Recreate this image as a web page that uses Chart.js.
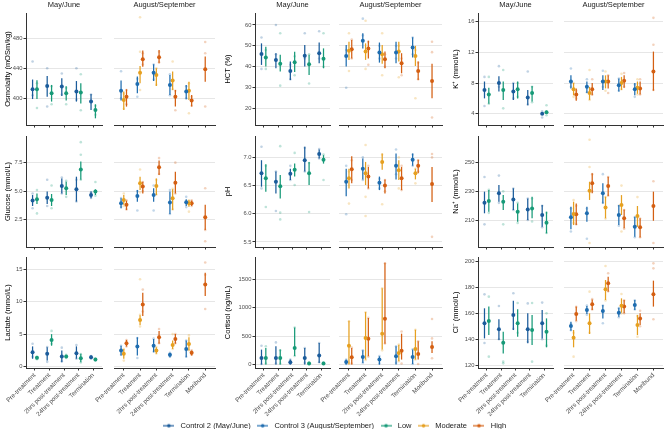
<!DOCTYPE html>
<html><head><meta charset="utf-8">
<script src="https://cdn.jsdelivr.net/npm/chart.js@4.4.0/dist/chart.umd.min.js"></script>
<style>
html,body{margin:0;padding:0;background:#fff;width:667px;height:440px;overflow:hidden;}
#wrap{position:relative;width:667px;height:440px;}
canvas{position:absolute;}
</style></head><body><div id="wrap"></div>
<script>
// ---------------- categories ----------------
const catMay = ["Pre-treatment","Treatment","2hrs post-treatment","24hrs post-treatment","Termination"];
const catAug = ["Pre-treatment","Treatment","2hrs post-treatment","24hrs post-treatment","Termination","Moribund"];
const groupNames = ["Control 2 (May/June)","Control 3 (August/September)","Low","Moderate","High"];

// ---------------- data: [mean, lower, upper] per category ----------------
// Osmolality (mOSm/kg)
const osmoC2  = [[412,399,425],[416.4,402,429.8],[415.6,403,426.7],[408.9,395.6,423],[395.6,384.4,405.8]];
const osmoLow = [[412,399,424],[406.7,395.6,417.8],[406.7,397,416],[407.6,393,420],[384.4,373.3,392]];
const osmoC3  = [[410.2,396.9,423.6],[419.1,406.7,428.9],[434.2,423,445.3],[417.8,404.4,431],[408.9,398.7,417.8],null];
const osmoMod = [[397.8,384.4,408.9],[434.2,420,443],[431,416.4,440],[423.6,411,435.6],[410,397.8,422],null];
const osmoHigh= [[402.2,388.9,412],[452,442.2,463.6],[454.7,446.7,464.4],[402.2,389,411],[396.9,389,404.4],[438.7,422.2,455.6]];
const osmoC2Raw  = [[0,449],[0,404],[1,440],[1,389],[2,433],[2,405],[3,440],[3,398],[4,405]];
const osmoLowRaw = [[0,387],[0,420],[1,392],[1,416],[2,392],[2,414],[3,384],[3,432],[4,378],[4,390]];
const osmoC3Raw  = [[0,436],[0,400],[1,402],[1,426],[2,445],[2,425],[3,432],[3,404],[4,416],[4,400]];
const osmoModRaw = [[0,386],[0,406],[1,508],[1,411],[1,462],[2,440],[2,418],[3,449],[3,412],[4,380],[4,420]];
const osmoHighRaw= [[0,392],[0,411],[1,460],[1,445],[2,462],[2,448],[3,384],[3,410],[4,390],[4,402],[5,475],[5,460],[5,389]];
const osmoTicks = [400,440,480];
const osmoRange = [364.4,513.7];

// HCT (%)
const hctC2  = [[46.1,40.9,51.2],[43.3,39.3,46.5],[38.0,33.7,42.5],[45.3,40.1,50.4],[46.5,41.7,51.6]];
const hctLow = [[44.5,40.1,49.6],[41.4,37.7,45.7],[42.2,37.5,47.2],[41.2,36.1,45.7],[43.9,39.3,48.8]];
const hctC3  = [[45.2,40.1,50.4],[52.5,48.8,56],[46.8,42,51.6],[46.8,41.7,52],[49.2,44.5,54.1],null];
const hctMod = [[47.7,43.3,52],[47.3,43.3,51.2],[46,41.4,50.4],[47.3,42.5,52],[45.2,40.4,50],null];
const hctHigh= [[48.4,44,52.8],[48.8,44,52.5],[43.6,39.3,47.3],[41.7,36.9,46.5],[38,33.7,42.5],[33.2,25,41.5]];
const hctC2Raw  = [[0,54],[0,39],[1,60],[1,46],[2,34],[2,41],[3,56],[3,44],[4,57],[4,44]];
const hctLowRaw = [[0,39],[0,48],[1,31],[1,56],[2,36],[2,45],[3,32],[3,46],[4,56],[4,40]];
const hctC3Raw  = [[0,30],[0,48],[1,63],[1,55],[2,50],[2,44],[3,50],[3,44],[4,54],[4,46]];
const hctModRaw = [[0,56],[0,38],[1,62],[1,39],[2,56],[2,36],[3,35],[3,50],[4,25],[4,48]];
const hctHighRaw= [[0,53],[0,44],[1,41],[1,52],[2,46],[2,40],[3,44],[3,36],[4,42],[4,34],[5,52],[5,47],[5,15.8]];
const hctTicks = [20,30,40,50,60];
const hctRange = [12.2,65.7];

// K+ (mmol/L)
const kC2  = [[7.1,6,8.2],[8.0,6.9,8.9],[6.9,5.8,8],[6.1,5.1,7.1],[4.0,3.9,4.2]];
const kLow = [[6.5,5.3,7.4],[7.1,5.8,8.2],[7.2,6,8.2],[6.7,5.6,7.6],[4.2,4.0,4.4]];
const kC3  = [[8.2,7.3,9],[7.5,6.7,8.2],[8.2,7.1,9],[7.7,6.9,8.6],[7.2,6.4,8],null];
const kMod = [[7.2,6.4,8],[6.7,5.8,7.5],[8.2,7.3,9],[8.0,7.1,8.8],[7.4,6.6,8.2],null];
const kHigh= [[6.5,5.7,7.3],[7.2,6.4,8],[8.2,7.3,9],[8.3,7.4,9],[7.3,6.5,8.2],[9.5,7.0,12.1]];
const kC2Raw  = [[0,8.8],[0,5.0],[1,10.2],[1,7.5],[2,8.0],[2,6.0],[3,9.5],[3,5.2],[4,3.5],[4,4.3]];
const kLowRaw = [[0,8.8],[0,5.3],[1,9.7],[1,4.7],[2,8.0],[2,6.2],[3,7.5],[3,5.5],[4,5.1],[4,3.8]];
const kC3Raw  = [[0,9.9],[0,7.5],[1,8.5],[1,6.8],[2,9.6],[2,7.5],[3,8.6],[3,7.0],[4,7.8],[4,6.2]];
const kModRaw = [[0,8.0],[0,6.2],[1,9.7],[1,5.8],[2,9.5],[2,7.0],[3,9.2],[3,7.2],[4,8.5],[4,6.5]];
const kHighRaw= [[0,7.0],[0,6.0],[1,8.5],[1,6.5],[2,9.0],[2,6.7],[3,9.3],[3,7.5],[4,8.5],[4,6.5],[5,16.5],[5,13.0],[5,7.1]];
const kTicks = [4,8,12,16];
const kRange = [2.53,17.13];

// Glucose (mmol/L)
const gluC2  = [[4.17,3.7,4.66],[4.43,3.87,4.96],[5.45,4.8,6.1],[5.16,4.08,6.27],[4.66,4.37,4.96]];
const gluLow = [[4.3,3.87,4.8],[4.23,3.7,4.75],[5.25,4.66,5.83],[6.9,6.0,7.6],[4.96,4.66,5.16]];
const gluC3  = [[3.93,3.5,4.37],[4.58,4.08,5.1],[4.66,4.08,5.25],[4.0,3.0,4.96],[4.02,3.7,4.28],null];
const gluMod = [[4.23,3.8,4.66],[5.69,5.1,6.27],[5.45,4.66,6.1],[4.37,3.35,5.16],[3.93,3.64,4.23],null];
const gluHigh= [[3.8,3.35,4.17],[5.4,4.8,5.83],[7.09,6.42,7.68],[5.74,4.8,6.71],[3.93,3.7,4.17],[2.7,1.6,3.8]];
const gluC2Raw  = [[0,4.8],[0,3.5],[1,6.0],[1,3.7],[2,6.2],[2,4.8],[3,6.0],[3,4.1],[4,4.9],[4,4.4]];
const gluLowRaw = [[0,5.1],[0,3.05],[1,5.5],[1,3.5],[2,5.9],[2,4.5],[3,9.3],[3,8.2],[3,6.0],[4,5.8],[4,4.6]];
const gluC3Raw  = [[0,4.4],[0,3.6],[1,3.3],[1,5.0],[2,3.3],[2,5.5],[3,5.1],[3,3.0],[4,4.5],[4,3.6]];
const gluModRaw = [[0,4.8],[0,3.7],[1,6.9],[1,4.9],[2,6.0],[2,4.7],[3,5.2],[3,3.4],[4,4.2],[4,3.2]];
const gluHighRaw= [[0,4.2],[0,3.4],[1,5.8],[1,5.0],[2,7.9],[2,6.5],[3,7.5],[3,4.8],[4,4.2],[4,3.7],[5,5.25],[5,1.6],[5,0.6]];
const gluTicks = [2.5,5.0,7.5];
const gluRange = [0.1,9.84];

// pH
const phC2  = [[6.72,6.48,6.95],[6.57,6.36,6.75],[6.71,6.6,6.8],[6.95,6.75,7.19],[7.06,6.98,7.14]];
const phLow = [[6.63,6.39,6.88],[6.49,6.27,6.69],[6.78,6.66,6.89],[6.72,6.51,6.92],[6.96,6.89,7.04]];
const phC3  = [[6.57,6.31,6.8],[6.8,6.61,6.98],[6.55,6.42,6.66],[6.85,6.61,7.07],[6.96,6.85,7.07],null];
const phMod = [[6.63,6.45,6.8],[6.72,6.51,6.92],[6.92,6.78,7.07],[6.77,6.6,6.95],[6.72,6.61,6.8],null];
const phHigh= [[6.79,6.54,7.02],[6.66,6.45,6.83],[6.5,6.36,6.61],[6.63,6.42,6.83],[6.85,6.72,6.96],[6.53,6.21,6.83]];
const phC2Raw  = [[0,7.19],[0,6.45],[1,6.75],[1,6.05],[2,6.85],[2,6.6],[3,7.17],[3,6.75],[4,7.15],[4,6.98]];
const phLowRaw = [[0,6.12],[0,6.85],[1,7.2],[1,6.02],[1,5.9],[2,7.08],[2,6.51],[3,6.03],[3,6.9],[4,6.6],[4,7.05]];
const phC3Raw  = [[0,5.99],[0,6.85],[1,7.0],[1,6.6],[2,6.62],[2,6.45],[3,7.14],[3,6.7],[4,7.05],[4,6.85]];
const phModRaw = [[0,6.18],[0,6.75],[1,7.22],[1,5.96],[1,6.3],[2,7.05],[2,6.17],[3,7.0],[3,6.45],[4,6.54],[4,6.8]];
const phHighRaw= [[0,6.95],[0,6.6],[1,6.85],[1,6.45],[2,6.6],[2,6.4],[3,6.85],[3,6.42],[4,6.95],[4,6.75],[5,7.06],[5,7.0],[5,5.59]];
const phTicks = [5.5,6.0,6.5,7.0];
const phRange = [5.41,7.38];

// Na+ (mmol/L)
const naC2  = [[222.1,214.7,229.8],[228.6,222.8,234.4],[224.4,217,232.1],[217.4,210,225.1],[213.5,205.3,220.5]];
const naLow = [[223.3,215.8,230.9],[222.8,217,227.4],[215.8,208.8,221.6],[218.1,211.2,226.3],[208.1,200.7,215.8]];
const naC3  = [[211.9,203.5,219.3],[214.7,208.8,219.3],[228.6,221.6,235.6],[213.5,206.5,220.5],[205.3,198.4,212.3],null];
const naMod = [[214.2,206.5,222.8],[230.5,224,236.7],[218.8,211.2,226.3],[220.5,213.5,227.4],[212.8,205.3,219.8],null];
const naHigh= [[214,206.5,221.6],[235.6,228.6,242.6],[233.7,226.7,240.2],[211.2,204.2,217.4],[204.9,197.9,211.2],[219.8,209.5,229.8]];
const naC2Raw  = [[0,240],[0,207],[1,241],[1,222],[2,232],[2,217],[3,225],[3,210],[4,220],[4,205]];
const naLowRaw = [[0,231],[0,215],[1,207],[1,230],[2,222],[2,208],[3,225],[3,209],[4,215],[4,201]];
const naC3Raw  = [[0,202],[0,218],[1,197],[1,218],[2,242],[2,222],[3,220],[3,206],[4,212],[4,198]];
const naModRaw = [[0,224],[0,208],[1,266],[1,247],[1,194],[2,226],[2,211],[3,234],[3,202],[4,226],[4,206]];
const naHighRaw= [[0,220],[0,207],[1,242],[1,230],[2,240],[2,227],[3,217],[3,204],[4,211],[4,198],[5,237],[5,194]];
const naTicks = [210,230,250];
const naRange = [191.2,268.6];

// Lactate (mmol/L)
const lacC2  = [[2.2,1.18,3.1],[1.94,0.92,2.97],[1.53,0.66,2.46],[2.05,1.18,3.1],[1.43,1.18,1.69]];
const lacLow = [[1.33,1.1,1.6],[4.1,3.2,5.0],[1.53,1.3,1.75],[1.28,0.66,1.94],[1.07,0.9,1.25]];
const lacC3  = [[2.46,1.7,3.2],[3.07,1.7,4.5],[3.2,2.2,4.25],[1.79,1.43,2.1],[2.7,1.43,4.0],null];
const lacMod = [[1.94,1.18,2.7],[7.17,6.4,7.93],[2.46,1.94,2.97],[3.33,2.7,4.0],[3.48,2.46,4.5],null];
const lacHigh= [[3.58,3.07,4.1],[9.6,7.8,11.4],[4.5,3.5,5.5],[4.25,3.5,5.0],[2.1,1.7,2.46],[12.7,10.9,14.5]];
const lacC2Raw  = [[0,3.5],[0,1.5],[1,3.0],[1,0.7],[2,2.9],[2,0.8],[3,3.3],[3,1.2],[4,1.6],[4,1.2]];
const lacLowRaw = [[0,1.5],[0,1.1],[1,5.5],[1,3.5],[2,1.8],[2,1.3],[3,1.9],[3,0.6],[4,1.2],[4,0.9]];
const lacC3Raw  = [[0,3.2],[0,1.8],[1,4.4],[1,1.3],[2,4.3],[2,2.3],[3,2.1],[3,1.5],[4,4.0],[4,1.5]];
const lacModRaw = [[0,2.7],[0,0.9],[1,13.5],[1,8.0],[1,6.2],[2,3.0],[2,2.0],[3,5.0],[3,2.7],[4,4.8],[4,2.5]];
const lacHighRaw= [[0,4.1],[0,3.1],[1,11.9],[1,8.5],[2,5.8],[2,3.6],[3,5.0],[3,3.6],[4,2.5],[4,1.8],[5,16.1],[5,14.2],[5,8.9]];
const lacTicks = [0,5,10,15];
const lacRange = [-0.25,16.95];

// Cortisol (ng/mL)
const corC2  = [[117,0,263],[117,0,321],[41,0,88],[117,0,292],[158,29,379]];
const corLow = [[117,0,292],[117,0,263],[292,150,650],[18,5,30],[18,5,30]];
const corC3  = [[47,0,88],[134,29,251],[88,0,146],[146,0,321],[134,12,263],null];
const corMod = [[333,0,770],[467,88,922],[543,263,1342],[204,58,350],[274,88,613],null];
const corHigh= [[128,0,292],[455,146,817],[805,368,1791],[245,88,543],[187,88,408],[309,204,408]];
const corC2Raw  = [[0,330],[0,10],[1,390],[1,20],[2,90],[2,15],[3,290],[3,30],[4,380],[4,40]];
const corLowRaw = [[0,320],[0,20],[1,250],[1,15],[2,650],[2,150],[3,40],[3,10],[4,40],[4,15]];
const corC3Raw  = [[0,90],[0,10],[1,250],[1,30],[2,150],[2,20],[3,320],[3,30],[4,270],[4,10]];
const corModRaw = [[0,760],[0,30],[1,920],[1,80],[2,1340],[2,250],[3,350],[3,60],[4,610],[4,90]];
const corHighRaw= [[0,300],[0,20],[1,820],[1,140],[2,1780],[2,370],[3,580],[3,20],[4,410],[4,10],[5,800],[5,460],[5,110]];
const corTicks = [0,500,1000,1500];
const corRange = [-60,1890];

// Cl- (mmol/L)
const clC2  = [[152.3,140.6,163.9],[147.6,139.4,155.4],[158.7,147.1,169.8],[147.6,136.8,160],[152.3,140.6,162.6]];
const clLow = [[154.1,143.2,165.2],[137.3,129,145.8],[152.3,141.9,163.1],[147.1,135.5,158.7],[145.8,133.7,156.1]];
const clC3  = [[150.2,146.6,153.5],[162.6,159.5,165.7],[161.8,156.1,166.5],[160.5,157.4,164.4],[166.5,162.6,170.3],null];
const clMod = [[141.2,133.7,147.1],[152.3,144,160],[178.6,170.3,185.8],[165.9,160.5,171.6],[151,143.2,158.7],null];
const clHigh= [[159.5,154.3,165.2],[167,162.6,170.8],[183.2,176.8,188.4],[165.2,160,170.3],[156.1,151,160],[174.7,165.2,185.3]];
const clC2Raw  = [[0,174.7],[0,137],[1,165.7],[1,140],[2,175.5],[2,148],[3,167.7],[3,138],[4,168.3],[4,140]];
const clLowRaw = [[0,172.9],[0,126.5],[1,122.6],[1,121.3],[2,168],[2,145],[3,168],[3,122.6],[4,160],[4,135]];
const clC3Raw  = [[0,152],[0,147],[1,166],[1,159],[2,166],[2,152.3],[3,164],[3,157],[4,170],[4,163]];
const clModRaw = [[0,126.5],[0,145],[1,176.8],[1,145],[2,196.6],[2,170],[3,175],[3,160],[4,141.9],[4,158]];
const clHighRaw= [[0,165],[0,154],[1,171],[1,163],[2,191],[2,177],[3,170],[3,160],[4,162],[4,150],[5,198.7],[5,194.8],[5,155.4]];
const clTicks = [120,140,160,180,200];
const clRange = [117.7,203.6];

// ---------------- panels ----------------
const panels = [
  {title:"Osmolality (mOSm/kg)", ticks:osmoTicks, range:osmoRange, dec:0, may:[osmoC2,osmoLow], mayRaw:[osmoC2Raw,osmoLowRaw], aug:[osmoC3,osmoMod,osmoHigh], augRaw:[osmoC3Raw,osmoModRaw,osmoHighRaw]},
  {title:"HCT (%)", ticks:hctTicks, range:hctRange, dec:0, may:[hctC2,hctLow], mayRaw:[hctC2Raw,hctLowRaw], aug:[hctC3,hctMod,hctHigh], augRaw:[hctC3Raw,hctModRaw,hctHighRaw]},
  {title:"K\u207A (mmol/L)", ticks:kTicks, range:kRange, dec:0, may:[kC2,kLow], mayRaw:[kC2Raw,kLowRaw], aug:[kC3,kMod,kHigh], augRaw:[kC3Raw,kModRaw,kHighRaw]},
  {title:"Glucose (mmol/L)", ticks:gluTicks, range:gluRange, dec:1, may:[gluC2,gluLow], mayRaw:[gluC2Raw,gluLowRaw], aug:[gluC3,gluMod,gluHigh], augRaw:[gluC3Raw,gluModRaw,gluHighRaw]},
  {title:"pH", ticks:phTicks, range:phRange, dec:1, may:[phC2,phLow], mayRaw:[phC2Raw,phLowRaw], aug:[phC3,phMod,phHigh], augRaw:[phC3Raw,phModRaw,phHighRaw]},
  {title:"Na\u207A (mmol/L)", ticks:naTicks, range:naRange, dec:0, may:[naC2,naLow], mayRaw:[naC2Raw,naLowRaw], aug:[naC3,naMod,naHigh], augRaw:[naC3Raw,naModRaw,naHighRaw]},
  {title:"Lactate (mmol/L)", ticks:lacTicks, range:lacRange, dec:0, may:[lacC2,lacLow], mayRaw:[lacC2Raw,lacLowRaw], aug:[lacC3,lacMod,lacHigh], augRaw:[lacC3Raw,lacModRaw,lacHighRaw]},
  {title:"Cortisol (ng/mL)", ticks:corTicks, range:corRange, dec:0, may:[corC2,corLow], mayRaw:[corC2Raw,corLowRaw], aug:[corC3,corMod,corHigh], augRaw:[corC3Raw,corModRaw,corHighRaw]},
  {title:"Cl\u207B (mmol/L)", ticks:clTicks, range:clRange, dec:0, may:[clC2,clLow], mayRaw:[clC2Raw,clLowRaw], aug:[clC3,clMod,clHigh], augRaw:[clC3Raw,clModRaw,clHighRaw]},
];

// ---------------- style / layout ----------------
const FONT = "'Liberation Sans', Arial, Helvetica, sans-serif";
const COLORS = {c2:'#1b5c9b', c3:'#1f6db0', low:'#179a78', mod:'#e6a020', high:'#d45f12'};
const legendColors = [COLORS.c2, COLORS.c3, COLORS.low, COLORS.mod, COLORS.high];
const colGeom = [
  {cl:0,   may:[26,102],  aug:[114,215]},
  {cl:220, may:[255,330], aug:[339,442]},
  {cl:448, may:[478,553], aug:[564,663]},
];
const rowGeom = [[13,125],[136,247],[257,368]];

function rgba(hex, a){
  const n = parseInt(hex.slice(1),16);
  return `rgba(${(n>>16)&255},${(n>>8)&255},${n&255},${a})`;
}
function dodgeOffsets(count, width){
  if (count <= 1) return [0];
  const step = width / count;
  const out = [];
  for (let k=0;k<count;k++) out.push(-width/2 + step*(k+0.5));
  return out;
}

const errorBarPlugin = {
  id:'errbars',
  beforeDatasetDraw(chart, args){
    const ds = chart.data.datasets[args.index];
    if (!ds.errLo) return;
    const ctx = chart.ctx, xs = chart.scales.x, ys = chart.scales.y;
    ctx.save();
    ctx.strokeStyle = ds.borderColor;
    ctx.lineWidth = 1.25;
    ds.data.forEach((p,i)=>{
      const px = xs.getPixelForValue(p.x);
      ctx.beginPath();
      ctx.moveTo(px, ys.getPixelForValue(ds.errLo[i]));
      ctx.lineTo(px, ys.getPixelForValue(ds.errHi[i]));
      ctx.stroke();
    });
    ctx.restore();
  }
};

const wrap = document.getElementById('wrap');
function addCanvas(l,t,w,h){
  const c = document.createElement('canvas');
  c.width = w; c.height = h;
  c.style.left = l+'px'; c.style.top = t+'px';
  c.style.width = w+'px'; c.style.height = h+'px';
  wrap.appendChild(c);
  return c;
}

function buildPanel(p, row, col, sub){
  const g = colGeom[col];
  const isMay = sub === 'may';
  const [AL, AR] = isMay ? g.may : g.aug;
  const [AT, AB] = rowGeom[row];
  const CL = isMay ? g.cl : AL - 36;
  const yW = AL - CL;
  const padR = 4, padB = 2;
  const padT = row === 0 ? 0 : 5;
  const CT = row === 0 ? 0 : AT - padT;
  const xH = row === 2 ? 50 : 3;
  const CW = AR + padR - CL;
  const CH = AB + xH + padB - CT;
  const cats = isMay ? catMay : catAug;
  const keys = isMay ? ['c2','low'] : ['c3','mod','high'];
  const stats = isMay ? p.may : p.aug;
  const raws = isMay ? p.mayRaw : p.augRaw;
  const dodgeW = isMay ? 0.6 : 0.5;

  const xPos = keys.map(()=>[]);
  cats.forEach((c,i)=>{
    const present = [];
    stats.forEach((s,gi)=>{ if (s[i]) present.push(gi); });
    const offs = dodgeOffsets(present.length, dodgeW);
    present.forEach((gi,k)=>{ xPos[gi][i] = i + offs[k]; });
  });

  const datasets = [];
  keys.forEach((k,gi)=>{
    const pts=[], lo=[], hi=[];
    stats[gi].forEach((s,i)=>{ if(!s) return; pts.push({x:xPos[gi][i], y:s[0]}); lo.push(s[1]); hi.push(s[2]); });
    datasets.push({data:pts, errLo:lo, errHi:hi, backgroundColor:COLORS[k], borderColor:COLORS[k],
      pointRadius:2, pointBorderWidth:0, pointHoverRadius:2});
  });
  keys.forEach((k,gi)=>{
    const pts = raws[gi].map(([i,v])=>({x:xPos[gi][i], y:v}));
    datasets.push({data:pts, backgroundColor:rgba(COLORS[k],0.28), borderColor:rgba(COLORS[k],0.28),
      pointRadius:1.3, pointBorderWidth:0, pointHoverRadius:1.3});
  });

  const canvas = addCanvas(CL, CT, CW, CH);
  new Chart(canvas, {
    type:'scatter',
    data:{datasets},
    plugins:[errorBarPlugin],
    options:{
      responsive:false, maintainAspectRatio:false, animation:false, devicePixelRatio:1, events:[],
      layout:{padding:{left:0, right:padR, top:padT, bottom:padB}},
      plugins:{
        legend:{display:false}, tooltip:{enabled:false},
        title:{display: row===0, fullSize:false, text: isMay ? 'May/June' : 'August/September',
          font:{family:FONT, size:7.5, weight:'normal'}, color:'#1a1a1a', padding:{top:0,bottom:4}}
      },
      scales:{
        x:{
          type:'linear', min:-0.6, max:cats.length-0.4, bounds:'data',
          afterBuildTicks:(s)=>{ s.ticks = cats.map((_,i)=>({value:i})); },
          afterFit:(s)=>{ s.height = xH; s.paddingLeft = 0; s.paddingRight = 0; },
          ticks:{display: row===2, autoSkip:false, minRotation:45, maxRotation:45,
            font:{family:FONT, size:6.3}, color:'#4d4d4d', padding:1,
            callback:(v)=>cats[v]},
          grid:{display:true, drawOnChartArea:false, drawTicks:true, tickLength:2.5, tickColor:'#333', tickWidth:1},
          border:{display:true, color:'#333', width:1}
        },
        y:{
          type:'linear', min:p.range[0], max:p.range[1], bounds:'data',
          afterBuildTicks:(s)=>{ s.ticks = p.ticks.map(v=>({value:v})); },
          afterFit:(s)=>{ s.width = yW; s.paddingTop = 0; s.paddingBottom = 0; },
          ticks:{display:isMay, font:{family:FONT, size:5.8}, color:'#4d4d4d', padding:1,
            callback:(v)=>Number(v).toFixed(p.dec)},
          grid:{display:true, color:'#e6e6e6', lineWidth:1, drawTicks:isMay, tickLength:2.5, tickColor:'#333'},
          border:{display:isMay, color:'#333', width:1},
          title:{display:isMay, text:p.title, font:{family:FONT, size:7.5}, color:'#000', padding:{top:3.5,bottom:0}}
        }
      }
    }
  });
}

panels.forEach((p, idx)=>{
  const row = Math.floor(idx/3), col = idx%3;
  buildPanel(p,row,col,'may');
  buildPanel(p,row,col,'aug');
});

// ---------------- legend ----------------
function markerImg(color){
  const c = document.createElement('canvas');
  c.width = 11; c.height = 6;
  const x = c.getContext('2d');
  x.strokeStyle = color; x.lineWidth = 1.2;
  x.beginPath(); x.moveTo(0,3); x.lineTo(11,3); x.stroke();
  x.fillStyle = color; x.beginPath(); x.arc(5.5,3,1.8,0,Math.PI*2); x.fill();
  return c;
}
const legCanvas = addCanvas(0, 418, 667, 22);
new Chart(legCanvas, {
  type:'scatter',
  data:{datasets: groupNames.map((n,i)=>({label:n, data:[], backgroundColor:legendColors[i], borderColor:legendColors[i]}))},
  options:{
    responsive:false, maintainAspectRatio:false, animation:false, devicePixelRatio:1, events:[],
    layout:{padding:0},
    scales:{x:{display:false}, y:{display:false}},
    plugins:{
      tooltip:{enabled:false},
      legend:{display:true, position:'top',
        labels:{usePointStyle:true, pointStyleWidth:16, boxHeight:6, padding:4,
          font:{family:FONT, size:7.5}, color:'#1a1a1a',
          generateLabels:()=>groupNames.map((n,i)=>({text:n, fillStyle:legendColors[i], strokeStyle:legendColors[i],
            lineWidth:0, pointStyle:markerImg(legendColors[i]), hidden:false, datasetIndex:i, fontColor:'#1a1a1a'}))
        }
      }
    }
  }
});
</script>
</body></html>
